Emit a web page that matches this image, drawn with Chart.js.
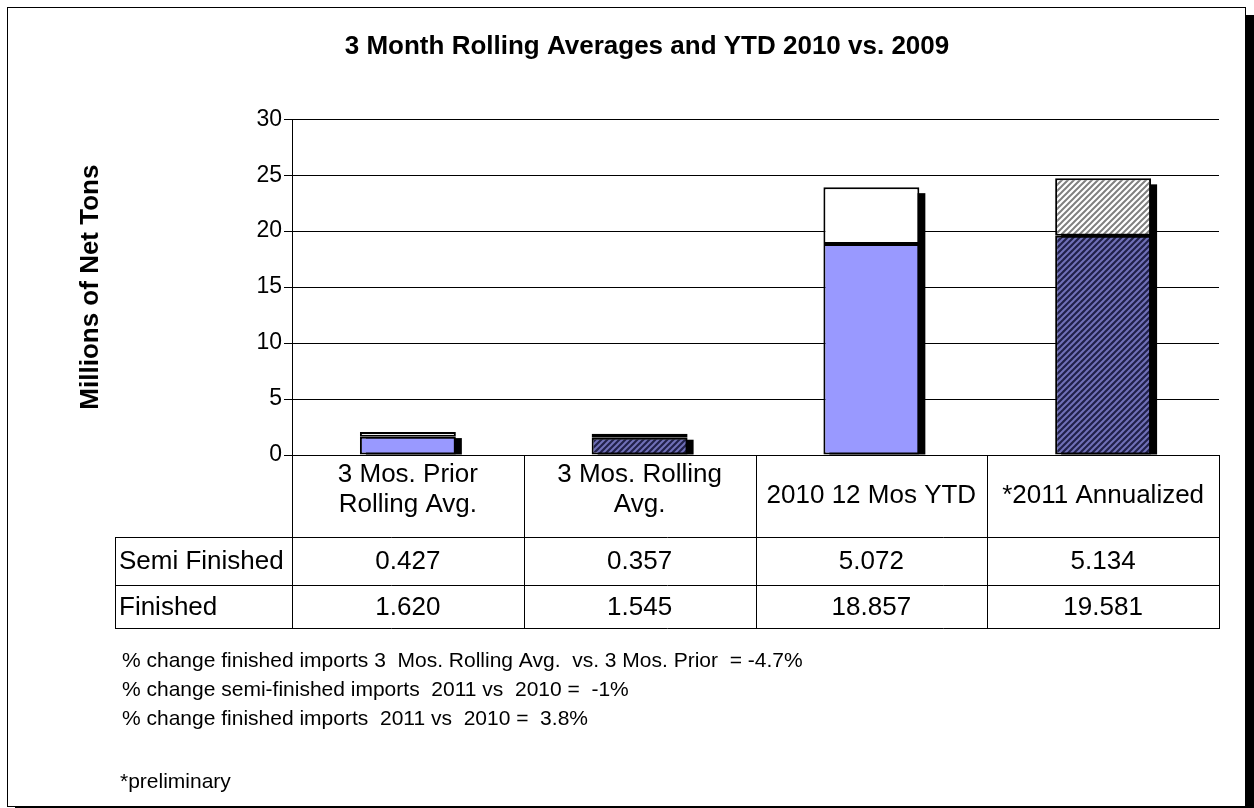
<!DOCTYPE html>
<html>
<head>
<meta charset="utf-8">
<script src="https://cdn.jsdelivr.net/npm/chart.js@4/dist/chart.umd.min.js"></script>
<style>
  html, body { margin: 0; padding: 0; background: #fff; }
  #wrap { width: 1254px; height: 808px; }
</style>
</head>
<body>
<div id="wrap"><canvas id="chart" width="1254" height="808"></canvas></div>
<script>
(() => {
    "use strict";

    const categories = [
        ["3 Mos. Prior", "Rolling Avg."],
        ["3 Mos. Rolling", "Avg."],
        ["2010 12 Mos YTD"],
        ["*2011 Annualized"]
    ];
    const finished = [1.620, 1.545, 18.857, 19.581];
    const semiFinished = [0.427, 0.357, 5.072, 5.134];
    const yTicks = [0, 5, 10, 15, 20, 25, 30];
    const notes = [
        "% change finished imports 3  Mos. Rolling Avg.  vs. 3 Mos. Prior  = -4.7%",
        "% change semi-finished imports  2011 vs  2010 =  -1%",
        "% change finished imports  2011 vs  2010 =  3.8%"
    ];
    const footnote = "*preliminary";

    const FONT = "'Liberation Sans', Arial, sans-serif";

    const makeHatch = (bg, fg) => {
        const c = document.createElement("canvas");
        c.width = 6;
        c.height = 6;
        const g = c.getContext("2d");
        g.fillStyle = bg;
        g.fillRect(0, 0, 6, 6);
        g.strokeStyle = fg;
        g.lineWidth = 2;
        g.beginPath();
        g.moveTo(-1, 7); g.lineTo(7, -1);
        g.moveTo(-4, 4); g.lineTo(4, -4);
        g.moveTo(2, 10); g.lineTo(10, 2);
        g.stroke();
        return g.createPattern(c, "repeat");
    };

    const darkHatch = makeHatch("#20204a", "#7070b8");
    const greyHatch = makeHatch("#ffffff", "#808080");

    const frame = {
        id: "frame",
        beforeDraw(chart) {
            const g = chart.ctx;
            g.save();
            g.fillStyle = "#000";
            g.fillRect(15, 15, 1239, 800);
            g.fillStyle = "#fff";
            g.fillRect(7, 7, 1239, 800);
            g.strokeStyle = "#000";
            g.lineWidth = 1;
            g.strokeRect(7.5, 7.5, 1238, 799);
            g.restore();
        }
    };

    const barShadow = {
        id: "barShadow",
        beforeDatasetsDraw(chart) {
            const g = chart.ctx;
            const top = chart.getDatasetMeta(1).data;
            const bottom = chart.getDatasetMeta(0).data;
            g.save();
            g.fillStyle = "#000";
            top.forEach((bar, i) => {
                const half = bar.width / 2;
                const base = bottom[i].base;
                g.fillRect(bar.x - half + 6, bar.y + 6, bar.width, base - bar.y - 6);
            });
            g.restore();
        }
    };

    const dataTable = {
        id: "dataTable",
        afterDraw(chart) {
            const g = chart.ctx;
            const x = chart.scales.x;
            const area = chart.chartArea;
            const left = area.left;
            const right = area.right;
            const top = area.bottom;
            const headBottom = top + 82;
            const row1Bottom = headBottom + 48;
            const row2Bottom = row1Bottom + 43;
            const labelLeft = 115;
            const step = (right - left) / categories.length;

            g.save();
            g.strokeStyle = "#000";
            g.lineWidth = 1;
            g.beginPath();
            for (let i = 0; i <= categories.length; i++) {
                const cx = Math.round(left + i * step) + 0.5;
                g.moveTo(cx, top);
                g.lineTo(cx, row2Bottom);
            }
            g.moveTo(labelLeft + 0.5, headBottom);
            g.lineTo(labelLeft + 0.5, row2Bottom);
            [headBottom, row1Bottom, row2Bottom].forEach((yy) => {
                g.moveTo(labelLeft, yy + 0.5);
                g.lineTo(right + 1, yy + 0.5);
            });
            g.stroke();

            g.fillStyle = "#000";
            g.font = "26px " + FONT;
            g.textAlign = "center";
            g.textBaseline = "middle";
            categories.forEach((lines, i) => {
                const cx = x.getPixelForValue(i);
                const lh = 30;
                const n = lines.length - 1;
                const startY = (top + headBottom) / 2 - n * lh / 2 - n * 6;
                lines.forEach((t, k) => g.fillText(t, cx, startY + k * lh));
                g.fillText(semiFinished[i].toFixed(3), cx, (headBottom + row1Bottom) / 2 + 1);
                g.fillText(finished[i].toFixed(3), cx, (row1Bottom + row2Bottom) / 2 + 1);
            });
            g.textAlign = "left";
            g.fillText("Semi Finished", labelLeft + 4, (headBottom + row1Bottom) / 2 + 1);
            g.fillText("Finished", labelLeft + 4, (row1Bottom + row2Bottom) / 2 + 1);

            g.font = "21px " + FONT;
            notes.forEach((t, k) => g.fillText(t, 122, 661 + k * 29));
            g.fillText(footnote, 120, 782);
            g.restore();
        }
    };

    new Chart(document.getElementById("chart"), {
        type: "bar",
        data: {
            labels: categories,
            datasets: [
                {
                    label: "Finished",
                    data: finished,
                    backgroundColor: ["#9999ff", darkHatch, "#9999ff", darkHatch],
                    borderColor: "#000",
                    borderWidth: 2,
                    borderSkipped: false
                },
                {
                    label: "Semi Finished",
                    data: semiFinished,
                    backgroundColor: ["#ffffff", greyHatch, "#ffffff", greyHatch],
                    borderColor: "#000",
                    borderWidth: 2,
                    borderSkipped: false
                }
            ]
        },
        options: {
            responsive: false,
            animation: false,
            events: [],
            layout: {
                padding: { left: 75, right: 35, top: 0, bottom: 180 }
            },
            datasets: {
                bar: { categoryPercentage: 1, barPercentage: 0.414 }
            },
            scales: {
                x: {
                    stacked: true,
                    grid: { display: false },
                    border: { display: false },
                    ticks: { display: false },
                    afterFit: (s) => { s.height = 173; }
                },
                y: {
                    stacked: true,
                    min: 0,
                    max: 30,
                    afterBuildTicks: (s) => { s.ticks = yTicks.map((v) => ({ value: v })); },
                    afterFit: (s) => { s.width = 217; },
                    grid: { color: "#000", lineWidth: 1, tickLength: 8 },
                    border: { color: "#000", width: 1 },
                    ticks: {
                        color: "#000",
                        padding: 2,
                        font: { family: FONT, size: 23 }
                    },
                    title: {
                        display: true,
                        text: "Millions of Net Tons",
                        color: "#000",
                        padding: { top: 0, bottom: 0 },
                        font: { family: FONT, size: 26, weight: "bold" }
                    }
                }
            },
            plugins: {
                legend: { display: false },
                tooltip: { enabled: false },
                title: {
                    display: true,
                    text: "3 Month Rolling Averages and YTD 2010 vs. 2009",
                    color: "#000",
                    padding: { top: 31, bottom: 57 },
                    font: { family: FONT, size: 26, weight: "bold" }
                }
            }
        },
        plugins: [frame, barShadow, dataTable]
    });
})();
</script>
</body>
</html>
